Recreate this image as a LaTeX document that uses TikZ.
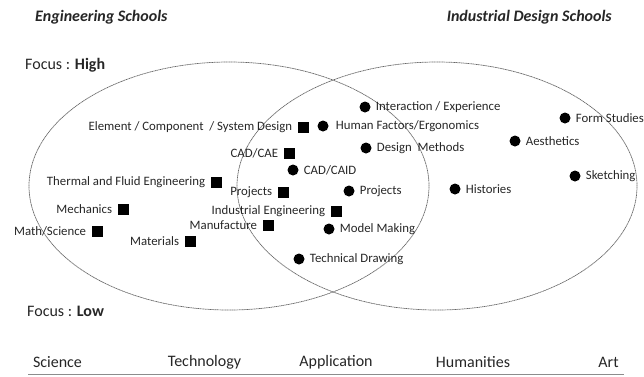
\documentclass[tikz,border=0pt]{standalone}
\usepackage{fontspec}
\setmainfont{Carlito}
\usepackage{xcolor}
\usepackage{tikz}
\usetikzlibrary{positioning}

\begin{document}
\begin{tikzpicture}[x=1pt, y=-1pt, node distance={5pt}, text=black!85,
	sq/.style = {fill=black, minimum size=11pt, inner sep=0},
	dot/.style = {fill=black, circle, minimum size=11pt, inner sep=0},
	lbl/.style = {inner sep=0, font=\fontsize{12.8}{14}\selectfont},
	venn/.style = {black!60, line width=0.7pt, dash pattern=on 1.2pt off 0.5pt},
	axis/.style = {inner sep=0, font=\fontsize{16}{18}\selectfont},
	head/.style = {inner sep=0, font=\fontsize{16}{19}\selectfont\bfseries\itshape}]
		\useasboundingbox (0,0) rectangle (644,376);

		% the two schools
		\draw [venn] (229,186) ellipse [x radius=200pt, y radius=124pt];
		\draw [venn] (437,186) ellipse [x radius=200pt, y radius=124pt];

		\node [head, anchor=west] (eng) at (35,17) {Engineering Schools};
		\node [head, anchor=east] (ids) at (612,17) {Industrial Design Schools};
		\node [axis, anchor=west] (high) at (25,65) {Focus : \textbf{High}};
		\node [axis, anchor=west] (low) at (27,311) {Focus : \textbf{Low}};

		% engineering topics
		\node [sq] (esd) at (303,127) {};
		\node [sq] (cae) at (289,153) {};
		\node [sq] (tfe) at (216,182) {};
		\node [sq] (prje) at (283,192) {};
		\node [sq] (mech) at (123,209) {};
		\node [sq] (ie) at (336,211) {};
		\node [sq] (math) at (97,231) {};
		\node [sq] (manu) at (268,225) {};
		\node [sq] (mat) at (190,241) {};
		\node [lbl, left=of esd] {Element / Component\ \ / System Design};
		\node [lbl, left=of cae] {CAD/CAE};
		\node [lbl, left=of tfe] {Thermal and Fluid Engineering};
		\node [lbl, left=of prje] {Projects};
		\node [lbl, left=of mech] {Mechanics};
		\node [lbl, left=of ie] {Industrial Engineering};
		\node [lbl, left=of math] {Math/Science};
		\node [lbl, left=of manu] {Manufacture};
		\node [lbl, left=of mat] {Materials};

		% design topics
		\node [dot] (hf) at (323,126) {};
		\node [dot] (inter) at (365,107) {};
		\node [dot] (dm) at (366,148) {};
		\node [dot] (caid) at (293,170) {};
		\node [dot] (prjd) at (349,191) {};
		\node [dot] (mm) at (329,229) {};
		\node [dot] (td) at (299,259) {};
		\node [dot] (hist) at (455,189) {};
		\node [dot] (aes) at (515,141) {};
		\node [dot] (form) at (565,118) {};
		\node [dot] (sketch) at (575,176) {};
		\node [lbl, right=7pt of hf] {Human Factors/Ergonomics};
		\node [lbl, right=of inter] {Interaction / Experience};
		\node [lbl, right=of dm] {Design\ \ Methods};
		\node [lbl, right=of caid] {CAD/CAID};
		\node [lbl, right=of prjd] {Projects};
		\node [lbl, right=of mm] {Model Making};
		\node [lbl, right=of td] {Technical Drawing};
		\node [lbl, right=of hist] {Histories};
		\node [lbl, right=of aes] {Aesthetics};
		\node [lbl, right=of form] {Form Studies};
		\node [lbl, right=of sketch] {Sketching};

		% scale along the bottom
		\node [axis] (sci) at (57.5,362) {Science};
		\node [axis] (tech) at (204.5,362) {Technology};
		\node [axis] (app) at (336,362) {Application};
		\node [axis] (hum) at (473,362) {Humanities};
		\node [axis] (art) at (608.5,362) {Art};
		\coordinate (axl) at (28,374.5);
		\coordinate (axr) at (624,374.5);
		\draw [black!45, line width=1pt] (axl) -- (axr);
\end{tikzpicture}
\end{document}
